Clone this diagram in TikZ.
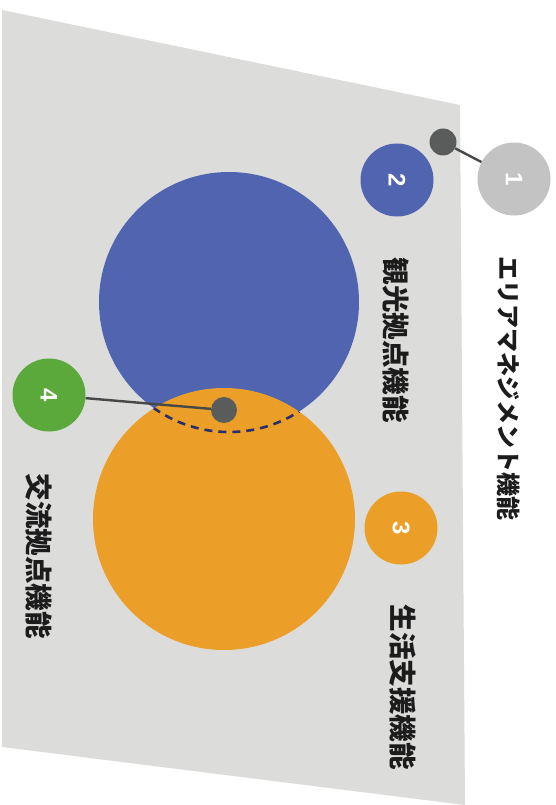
\documentclass[tikz,border=0pt]{standalone}
\usepackage{fontspec}
\newfontfamily\jp{Noto Sans CJK JP}
\newfontfamily\numf{Liberation Sans}
\definecolor{paper}{HTML}{DCDCDB}
\definecolor{cblue}{HTML}{5064B0}
\definecolor{corange}{HTML}{EC9F28}
\definecolor{cgreen}{HTML}{5BA93A}
\definecolor{cgray}{HTML}{C3C3C3}
\definecolor{dotgray}{HTML}{5A5C5B}
\definecolor{linegray}{HTML}{474848}
\definecolor{navy}{HTML}{2A2E6C}
\definecolor{ink}{HTML}{1C1C1C}
\begin{document}
\begin{tikzpicture}[x=1pt,y=-1pt,
  numc/.style={circle, inner sep=0pt, minimum size=73pt, text=white, rotate=-90,
    font=\numf\bfseries\fontsize{24}{24}\selectfont},
  bigc/.style={circle, inner sep=0pt},
  dotc/.style={circle, fill=dotgray, inner sep=0pt, minimum size=27pt},
  conn/.style={draw=linegray, line width=2.4pt},
  dashc/.style={draw=navy, line width=2.6pt, dash pattern=on 8pt off 6pt},
  lbl/.style={rotate=-90, text=ink, inner sep=0pt,
    font=\jp\bfseries\fontsize{27.5}{30}\selectfont},
  hdr/.style={rotate=-90, text=ink, inner sep=0pt,
    font=\jp\bfseries\fontsize{24}{26}\selectfont}]
\useasboundingbox (0,0) rectangle (556,805);
\fill[white] (0,0) rectangle (556,805);
\fill[paper] (2,10) -- (460,105) -- (465,805) -- (2,747) -- cycle;
% big circles
\node[bigc, fill=cblue, minimum size=260pt] (blue) at (229,302) {};
\node[bigc, fill=corange, minimum size=262pt] (orange) at (224,519) {};
\begin{scope}
  \clip (224,519) circle[radius=131pt];
  \draw[dashc] (229,302) circle[radius=130pt];
\end{scope}
% numbered circles
\node[numc, fill=cgray] (c1) at (514,179) {1};
\node[numc, fill=cblue] (c2) at (397,180) {2};
\node[numc, fill=corange] (c3) at (401,528) {3};
\node[numc, fill=cgreen] (c4) at (49,395) {4};
% dots and connectors
\node[dotc] (d1) at (443,142) {};
\node[dotc, minimum size=26pt] (d4) at (224,410) {};
\draw[conn] (d1) -- (c1);
\draw[conn] (c4) -- (d4);
% labels
\node[hdr] (t1) at (509,388) {エリアマネジメント機能};
\node[lbl] (t2) at (396,340) {観光拠点機能};
\node[lbl] (t3) at (403,687) {生活支援機能};
\node[lbl] (t4) at (39,556) {交流拠点機能};
\end{tikzpicture}
\end{document}
